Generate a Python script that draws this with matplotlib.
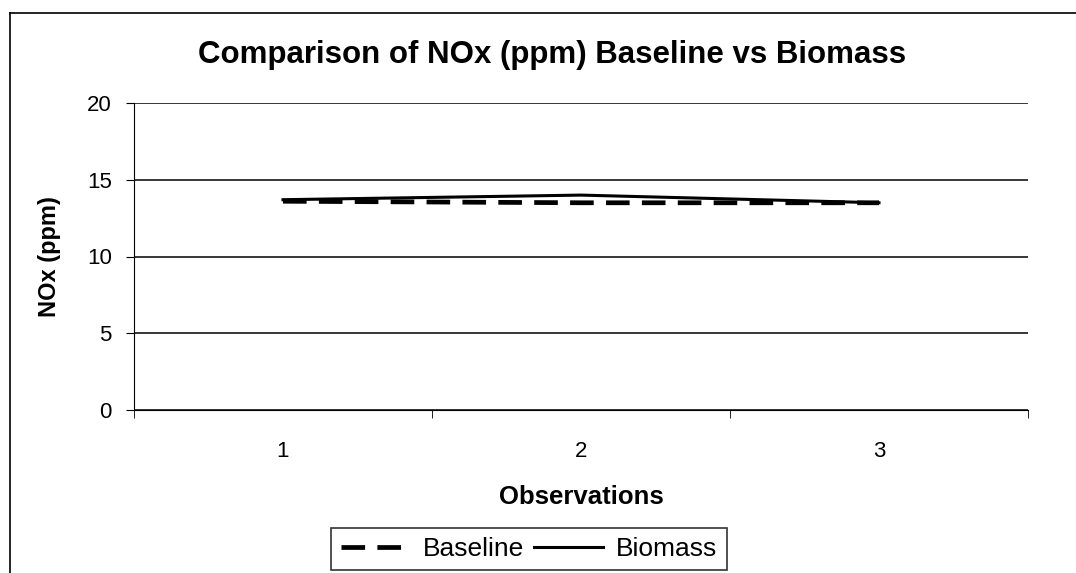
import matplotlib.pyplot as plt
from matplotlib.lines import Line2D

plt.rcParams['font.family'] = ['Liberation Sans', 'DejaVu Sans']

obs = [1, 2, 3]
baseline = [13.6, 13.5, 13.5]
biomass = [13.7, 14.0, 13.5]

W, H = 1076, 573
fig = plt.figure(figsize=(W/100, H/100), dpi=100)
ax = fig.add_axes([134/W, 1-410/H, (1028-134)/W, (410-103)/H])

ax.plot(obs, baseline, color='black', lw=3.4, ls=(0, (5, 2.6)), label='Baseline')
ax.plot(obs, biomass, color='black', lw=2.2, label='Biomass')

ax.set_xlim(0.5, 3.5)
ax.set_ylim(0, 20)
ax.set_yticks([0, 5, 10, 15, 20])
ax.set_xticks(obs)
ax.set_xticks([0.5, 1.5, 2.5, 3.5], minor=True)
ax.tick_params(axis='x', which='major', length=0, pad=22, labelsize=16)
ax.tick_params(axis='x', which='minor', length=6, direction='out')
ax.tick_params(axis='y', length=6, labelsize=16, pad=10)
ax.grid(axis='y', color='black', lw=1.1)
for s in ['top', 'right']:
    ax.spines[s].set_visible(False)

fig.text(552/W, 1-55/H, 'Comparison of NOx (ppm) Baseline vs Biomass',
         fontsize=22.5, fontweight='bold', ha='center', va='center')
ax.set_xlabel('Observations', fontsize=18.5, fontweight='bold', labelpad=17)
ax.set_ylabel('NOx (ppm)', fontsize=17, fontweight='bold', labelpad=19)

leg = fig.legend(loc='upper center', bbox_to_anchor=(529/W, 1-528/H), ncol=2,
                 fontsize=19, frameon=True, fancybox=False, edgecolor='black',
                 handlelength=2.6, columnspacing=0.4, handletextpad=0.5,
                 borderpad=0.35, borderaxespad=0)
leg.get_frame().set_linewidth(1.2)

# outer chart border (top and left edges visible)
fig.add_artist(Line2D([10/W, 1], [1-13/H, 1-13/H], color='black', lw=1.2))
fig.add_artist(Line2D([10/W, 10/W], [0, 1-13/H], color='black', lw=1.2))

fig.savefig('out.png', dpi=100)
